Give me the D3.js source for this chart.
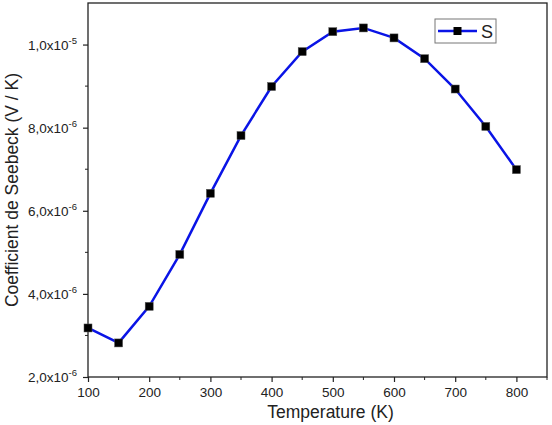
<!DOCTYPE html>
<html>
<head>
<meta charset="utf-8">
<script src="https://cdn.jsdelivr.net/npm/d3@7"></script>
<style>
  body { margin: 0; background: #fff; }
  text { font-family: "Liberation Sans", Arial, sans-serif; fill: #222; }
</style>
</head>
<body>
<div id="chart"></div>
<script>
// temperatures (K) and Seebeck coefficient (V/K)
const temps = [100, 150, 200, 250, 300, 350, 400, 450, 500, 550, 600, 650, 700, 750, 800];
const seebeck = [3.18e-6, 2.82e-6, 3.70e-6, 4.95e-6, 6.42e-6, 7.81e-6, 8.99e-6, 9.83e-6,
                 10.31e-6, 10.40e-6, 10.16e-6, 9.66e-6, 8.93e-6, 8.03e-6, 6.99e-6];
const xTicks = [100, 200, 300, 400, 500, 600, 700, 800];
const yTicks = [2e-6, 4e-6, 6e-6, 8e-6, 1e-5];
const yTickLabels = [["2,0x10", "-6"], ["4,0x10", "-6"], ["6,0x10", "-6"], ["8,0x10", "-6"], ["1,0x10", "-5"]];
const seriesName = "S";

const margin = {top: 3, right: 5, bottom: 48, left: 88};
const W = 552, H = 425;
const width = W - margin.left - margin.right;
const height = H - margin.top - margin.bottom;

const svg = d3.select("#chart").append("svg")
    .attr("width", W)
    .attr("height", H)
  .append("g")
    .attr("transform", `translate(${margin.left}, ${margin.top})`);

const x = d3.scaleLinear().domain([100, 850]).range([0, width]);
const y = d3.scaleLinear().domain([2e-6, 1.1e-5]).range([height, 0]);

const data = temps.map((t, i) => ({t: t, s: seebeck[i]}));

// minor ticks
const xMinor = d3.range(150, 851, 100);
const yMinor = d3.range(3e-6, 1.1e-5, 2e-6);

svg.append("g").selectAll("line").data(xMinor).join("line")
    .attr("x1", d => x(d)).attr("x2", d => x(d))
    .attr("y1", height).attr("y2", height + 3)
    .attr("stroke", "#222").attr("stroke-width", 1);
svg.append("g").selectAll("line").data(yMinor).join("line")
    .attr("y1", d => y(d)).attr("y2", d => y(d))
    .attr("x1", 0).attr("x2", -3)
    .attr("stroke", "#222").attr("stroke-width", 1);

// x axis
const xAxis = svg.append("g")
    .attr("transform", `translate(0, ${height})`)
    .call(d3.axisBottom(x).tickValues(xTicks).tickSize(5).tickSizeOuter(0).tickPadding(5));
xAxis.select(".domain").remove();
xAxis.selectAll("line").attr("stroke", "#222").attr("stroke-width", 1.2);
xAxis.selectAll("text").style("font-size", "13.5px").style("font-family", "Liberation Sans, Arial, sans-serif").attr("fill", "#222");

// y axis
const yAxis = svg.append("g")
    .call(d3.axisLeft(y).tickValues(yTicks).tickSize(5).tickSizeOuter(0).tickFormat(""));
yAxis.select(".domain").remove();
yAxis.selectAll("line").attr("stroke", "#222").attr("stroke-width", 1.2);

const yl = svg.append("g").selectAll("text").data(yTicks).join("text")
    .attr("x", -11)
    .attr("y", d => y(d) + 5)
    .attr("text-anchor", "end")
    .style("font-size", "13.5px");
yl.append("tspan").text((d, i) => yTickLabels[i][0]);
yl.append("tspan").attr("dy", -6).style("font-size", "9.5px").text((d, i) => yTickLabels[i][1]);

// frame
svg.append("rect")
    .attr("x", 0).attr("y", 0)
    .attr("width", width).attr("height", height)
    .attr("fill", "none")
    .attr("stroke", "#222")
    .attr("stroke-width", 1.3);

// line
const line = d3.line().x(d => x(d.t)).y(d => y(d.s));
svg.append("path")
    .datum(data)
    .attr("fill", "none")
    .attr("stroke", "#0a14e6")
    .attr("stroke-width", 2.5)
    .attr("d", line);

// markers
svg.append("g").selectAll("rect").data(data).join("rect")
    .attr("x", d => x(d.t) - 4)
    .attr("y", d => y(d.s) - 4)
    .attr("width", 8).attr("height", 8)
    .attr("fill", "#000")
    .attr("stroke", "#555")
    .attr("stroke-width", 0.5);

// legend
const lg = svg.append("g").attr("transform", `translate(${width - 112}, 16)`);
lg.append("rect")
    .attr("x", 0).attr("y", 0).attr("width", 61).attr("height", 24)
    .attr("fill", "#fff").attr("stroke", "#777").attr("stroke-width", 1);
lg.append("line")
    .attr("x1", 3).attr("x2", 42).attr("y1", 12).attr("y2", 12)
    .attr("stroke", "#0a14e6").attr("stroke-width", 2.5);
lg.append("rect")
    .attr("x", 18.5).attr("y", 8).attr("width", 8).attr("height", 8)
    .attr("fill", "#000");
lg.append("text")
    .attr("x", 46).attr("y", 19)
    .style("font-size", "18px")
    .text(seriesName);

// axis titles
svg.append("text")
    .attr("x", width / 2 + 13)
    .attr("y", height + 41)
    .attr("text-anchor", "middle")
    .style("font-size", "17.5px")
    .text("Temperature (K)");

svg.append("text")
    .attr("transform", "rotate(-90)")
    .attr("x", -height / 2)
    .attr("y", -margin.left + 18)
    .attr("text-anchor", "middle")
    .style("font-size", "17.5px")
    .text("Coefficient de Seebeck (V / K)");
</script>
</body>
</html>
